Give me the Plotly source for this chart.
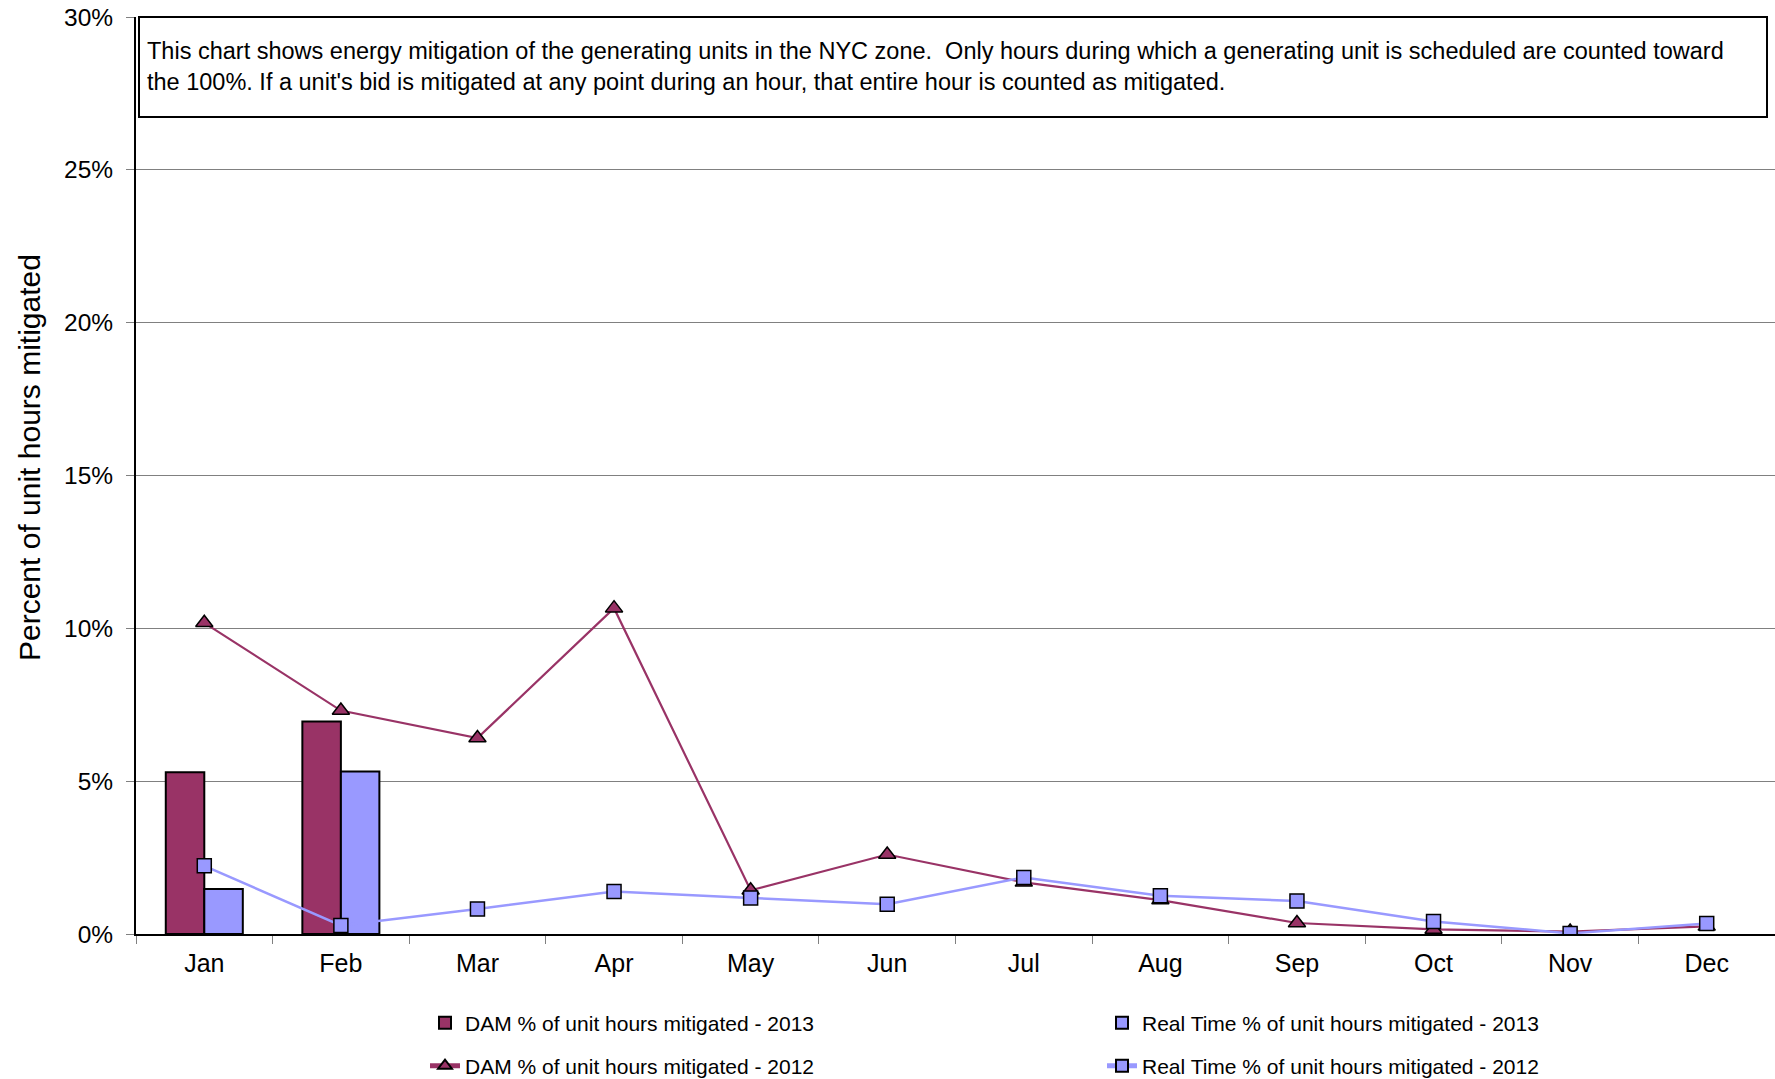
import plotly.graph_objects as go

months = ["Jan", "Feb", "Mar", "Apr", "May", "Jun", "Jul", "Aug", "Sep", "Oct", "Nov", "Dec"]
dam_2013 = [5.29, 6.95]
rt_2013 = [1.47, 5.32]
dam_2012 = [10.18, 7.31, 6.41, 10.66, 1.43, 2.60, 1.69, 1.11, 0.36, 0.15, 0.08, 0.25]
rt_2012 = [2.23, 0.28, 0.82, 1.39, 1.18, 0.97, 1.85, 1.25, 1.08, 0.41, 0.02, 0.34]
y_ticks = [0, 5, 10, 15, 20, 25, 30]
y_tick_text = ["0%", "5%", "10%", "15%", "20%", "25%", "30%"]

DAM_COLOR = "#993366"
RT_COLOR = "#9999FF"
FONT = "Liberation Sans, Arial, sans-serif"

fig = go.Figure()
fig.add_trace(go.Bar(x=months[:len(dam_2013)], y=dam_2013, name="DAM % of unit hours mitigated - 2013",
                     marker=dict(color=DAM_COLOR, line=dict(color="black", width=2)), legend="legend"))
fig.add_trace(go.Bar(x=months[:len(rt_2013)], y=rt_2013, name="Real Time % of unit hours mitigated - 2013",
                     marker=dict(color=RT_COLOR, line=dict(color="black", width=2)), legend="legend"))
fig.add_trace(go.Scatter(x=months, y=dam_2012, name="DAM % of unit hours mitigated - 2012",
                         mode="lines+markers", line=dict(color=DAM_COLOR, width=2.2),
                         marker=dict(symbol="triangle-up", size=15, color=DAM_COLOR,
                                     line=dict(color="black", width=1.5)), legend="legend2"))
fig.add_trace(go.Scatter(x=months, y=rt_2012, name="Real Time % of unit hours mitigated - 2012",
                         mode="lines+markers", line=dict(color=RT_COLOR, width=2.5),
                         marker=dict(symbol="square", size=14, color=RT_COLOR,
                                     line=dict(color="black", width=1.5)), legend="legend2"))

# body margin is removed by the post script, so figure px == page px
OFF = 0
W, H = 1775 - OFF, 1079 - OFF
L, R, T = 136 - OFF, 0, 17 - OFF
B = H - (934 - OFF)
pw = W - L - R
ph = H - T - B


def px(p):
    return (p - OFF - L) / pw


def py(p):
    return (H - B - (p - OFF)) / ph


fig.add_shape(type="rect", xref="paper", yref="paper",
              x0=px(139), x1=px(1767), y0=py(117), y1=1.0,
              line=dict(color="black", width=2), fillcolor="white", layer="above")
fig.add_annotation(xref="paper", yref="paper", x=px(145), y=py(36),
                   xanchor="left", yanchor="top", align="left", showarrow=False,
                   text="This chart shows energy mitigation of the generating units in the NYC zone.  Only hours during which a generating unit is scheduled are counted toward<br>the 100%. If a unit's bid is mitigated at any point during an hour, that entire hour is counted as mitigated.",
                   font=dict(family=FONT, size=23.5, color="black"))
fig.add_annotation(xref="paper", yref="paper", x=px(29), y=py(458),
                   xanchor="center", yanchor="middle", textangle=-90, showarrow=False,
                   text="Percent of unit hours mitigated",
                   font=dict(family=FONT, size=30, color="black"))

leg_common = dict(orientation="h", xref="container", yref="container", x=(425 - OFF) / W, xanchor="left",
                  yanchor="middle", entrywidth=632, entrywidthmode="pixels",
                  font=dict(size=21, family=FONT), traceorder="normal", itemsizing="constant",
                  bgcolor="rgba(0,0,0,0)")

fig.update_layout(
    width=W, height=H,
    margin=dict(l=L, r=R, t=T, b=B, pad=0, autoexpand=False),
    paper_bgcolor="white", plot_bgcolor="white",
    font=dict(family=FONT, color="black"),
    barmode="group", bargap=0.436, bargroupgap=0,
    showlegend=True,
    legend=dict(leg_common, y=1 - (1023 - OFF) / H),
    legend2=dict(leg_common, y=1 - (1066 - OFF) / H),
    xaxis=dict(type="category", categoryorder="array", categoryarray=months,
               range=[-0.5, len(months) - 0.5],
               showline=True, linecolor="black", linewidth=2, automargin=False,
               ticks="outside", tickson="boundaries", ticklen=8, tickcolor="#808080",
               tickfont=dict(size=25), showgrid=False, ticklabelstandoff=6),
    yaxis=dict(range=[0, 30], tickvals=y_ticks, ticktext=y_tick_text,
               showline=True, linecolor="black", linewidth=2, automargin=False,
               ticks="outside", ticklen=8, tickcolor="#808080", ticklabeloverflow="allow",
               tickfont=dict(size=24.5), showgrid=True, gridcolor="#808080", gridwidth=1,
               zeroline=False, ticklabelstandoff=8),
)

fig.write_html("out.html", config={"displayModeBar": False},
               post_script="document.body.style.margin='0';document.body.style.overflow='hidden';")
